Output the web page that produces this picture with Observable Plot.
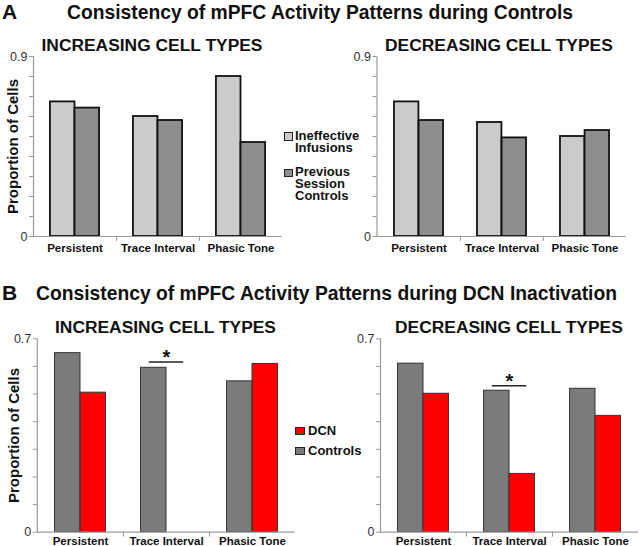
<!DOCTYPE html>
<html>
<head>
<meta charset="utf-8">
<script src="https://cdn.jsdelivr.net/npm/d3@7"></script>
<script src="https://cdn.jsdelivr.net/npm/@observablehq/plot@0.6"></script>
<style>
  html, body { margin: 0; padding: 0; background: #fff; }
  body { font-family: Arial, "Liberation Sans", sans-serif; }
  #root { position: relative; width: 640px; height: 546px; overflow: hidden; background: #fff; }
  .abs { position: absolute; white-space: pre; font-weight: bold; color: #111; }
  .sq { position: absolute; box-sizing: border-box; border: 1px solid #222; }
</style>
</head>
<body>
<div id="root"></div>
<script>
// ---------------- data ----------------
const categories = ["Persistent", "Trace Interval", "Phasic Tone"];

// Panel A: Consistency during Controls
const seriesA = ["Ineffective Infusions", "Previous Session Controls"];
const seriesA_lines = [["Ineffective", "Infusions"], ["Previous", "Session", "Controls"]];
const incA_ineffective = [0.673, 0.600, 0.800];
const incA_previous    = [0.642, 0.580, 0.470];
const decA_ineffective = [0.673, 0.570, 0.500];
const decA_previous    = [0.580, 0.493, 0.530];
const yMaxA = 0.9;

// Panel B: Consistency during DCN Inactivation
const seriesB = ["Controls", "DCN"];
const incB_controls = [0.648, 0.595, 0.546];
const incB_dcn      = [0.505, 0.000, 0.609];
const decB_controls = [0.610, 0.512, 0.519];
const decB_dcn      = [0.501, 0.211, 0.421];
const incB_sig = [null, 0.616, null];
const decB_sig = [null, 0.530, null];
const yMaxB = 0.7;

const yTickLabels = {A: ["0", "0.9"], B: ["0", "0.7"]};

// ---------------- styles ----------------
const colA = ["#cbcbcb", "#8e8e8e"];
const colB = ["#7b7b7b", "#ff0000"];
const axisGray = "#9a9a9a";

const root = document.getElementById("root");

function panel(o) {
  const {left, top, width, height, mL, mR, mT, mB, v1, v2, yMax, labels,
         colors, strokeW, stroke, ylabel, ylabelDx, sig, xPad} = o;
  const d1 = categories.map((c, i) => ({category: c, value: v1[i]})).filter(d => d.value > 0);
  const d2 = categories.map((c, i) => ({category: c, value: v2[i]})).filter(d => d.value > 0);
  const step = (width - mL - mR) / categories.length;
  const pair = step * 0.592;
  const outer = (step - pair) / 2;
  const ticks = d3.range(0, Math.round(yMax * 10) + 1).map(k => k / 10);
  const marks = [
    Plot.barY(d1, {x: "category", y: "value", fill: colors[0], stroke, strokeWidth: strokeW,
                   insetLeft: outer, insetRight: step / 2}),
    Plot.barY(d2, {x: "category", y: "value", fill: colors[1], stroke, strokeWidth: strokeW,
                   insetLeft: step / 2, insetRight: outer}),
    Plot.ruleY([0], {stroke: axisGray, strokeWidth: 1.2}),
    Plot.frame({anchor: "left", stroke: axisGray, strokeWidth: 1.2}),
    Plot.axisY({ticks, tickSize: 4, tickPadding: 2, stroke: axisGray, fill: "#333",
                fontSize: 12.5, fontWeight: "normal", label: null,
                tickFormat: d => (d === 0 ? labels[0] : Math.abs(d - yMax) < 1e-9 ? labels[1] : "")}),
    Plot.axisX({tickSize: 0, tickPadding: xPad, fontSize: 11.5, fontWeight: "bold", fill: "#111", label: null}),
    Plot.axisX({ticks: categories.slice(1), tickSize: 5, dx: -step / 2, stroke: axisGray,
                label: null, tickFormat: () => ""})
  ];
  if (ylabel) {
    marks.push(Plot.text([ylabel], {frameAnchor: "left", rotate: -90, dx: ylabelDx,
      textAnchor: "middle", lineAnchor: "middle",
      fontSize: 15, fontWeight: "bold", fill: "#111", text: d => d}));
  }
  if (sig) {
    const ds = categories.map((c, i) => ({category: c, value: sig[i]})).filter(d => d.value != null);
    marks.push(Plot.tickY(ds, {x: "category", y: "value", stroke: "#222", strokeWidth: 1.5,
                               insetLeft: step * 0.3, insetRight: step * 0.3}));
    marks.push(Plot.text(ds, {x: "category", y: "value", text: () => "*", dy: -4,
                              fontSize: 20, fontWeight: "bold", fill: "#111"}));
  }
  const svg = Plot.plot({
    width, height, marginLeft: mL, marginRight: mR, marginTop: mT, marginBottom: mB,
    style: {background: "transparent", overflow: "visible", fontFamily: "Arial, 'Liberation Sans', sans-serif"},
    x: {domain: categories, padding: 0, axis: null, label: null},
    y: {domain: [0, yMax], axis: null, label: null},
    marks
  });
  const div = document.createElement("div");
  div.style.position = "absolute";
  div.style.left = left + "px";
  div.style.top = top + "px";
  div.appendChild(svg);
  root.appendChild(div);
}

// Panel A
panel({left: 0, top: 0, width: 290, height: 260, mL: 33, mR: 8, mT: 56, mB: 24,
       v1: incA_ineffective, v2: incA_previous, yMax: yMaxA, labels: yTickLabels.A,
       colors: colA, strokeW: 1.8, stroke: "#111", ylabel: "Proportion of Cells", ylabelDx: -20,
       xPad: 7});
panel({left: 320, top: 0, width: 320, height: 260, mL: 56.5, mR: 14, mT: 56, mB: 24,
       v1: decA_ineffective, v2: decA_previous, yMax: yMaxA, labels: yTickLabels.A,
       colors: colA, strokeW: 1.8, stroke: "#111", xPad: 7});
// Panel B
panel({left: 0, top: 290, width: 300, height: 256, mL: 36.8, mR: 5.2, mT: 48.3, mB: 14.3,
       v1: incB_controls, v2: incB_dcn, yMax: yMaxB, labels: yTickLabels.B,
       colors: colB, strokeW: 1, stroke: "#333", ylabel: "Proportion of Cells", ylabelDx: -23,
       sig: incB_sig, xPad: 5});
panel({left: 320, top: 290, width: 320, height: 256, mL: 60, mR: 2, mT: 48.3, mB: 14.3,
       v1: decB_controls, v2: decB_dcn, yMax: yMaxB, labels: yTickLabels.B,
       colors: colB, strokeW: 1, stroke: "#333", sig: decB_sig, xPad: 5});

// ---------------- titles & legends (HTML) ----------------
// text block whose first line's baseline sits at `baseline`
function text(str, left, baseline, fs, lh = fs) {
  const d = document.createElement("div");
  d.className = "abs";
  d.textContent = str;
  d.style.left = left + "px";
  d.style.top = (baseline - (lh - 1.117 * fs) / 2 - 0.905 * fs) + "px";
  d.style.fontSize = fs + "px";
  d.style.lineHeight = lh + "px";
  root.appendChild(d);
}
text("A", 2, 19, 21);
text("Consistency of mPFC Activity Patterns during Controls", 67, 19, 19.3);
text("INCREASING CELL TYPES", 41.5, 51.7, 17.4);
text("DECREASING CELL TYPES", 385, 51.7, 17.4);
text("B", 2, 300, 21);
text("Consistency of mPFC Activity Patterns during DCN Inactivation", 36, 300, 19.3);
text("INCREASING CELL TYPES", 55, 333.3, 17.4);
text("DECREASING CELL TYPES", 395, 333.3, 17.4);

function square(left, top, w, h, fill) {
  const s = document.createElement("div");
  s.className = "sq";
  Object.assign(s.style, {left: left + "px", top: top + "px", width: w + "px", height: h + "px", background: fill});
  root.appendChild(s);
}
// Legend A
square(284.3, 132.3, 8.6, 8.6, colA[0]);
square(284.3, 168.7, 8.6, 8.6, colA[1]);
text(seriesA_lines[0].join("\n"), 295, 140.5, 13, 12);
text(seriesA_lines[1].join("\n"), 295, 176.5, 13, 12);
// Legend B
square(295, 426.7, 9.5, 8.3, colB[1]);
square(295, 446.7, 9.5, 8.3, colB[0]);
text(seriesB[1], 308, 435.5, 13, 12);
text(seriesB[0], 308, 455.5, 13, 12);
</script>
</body>
</html>
